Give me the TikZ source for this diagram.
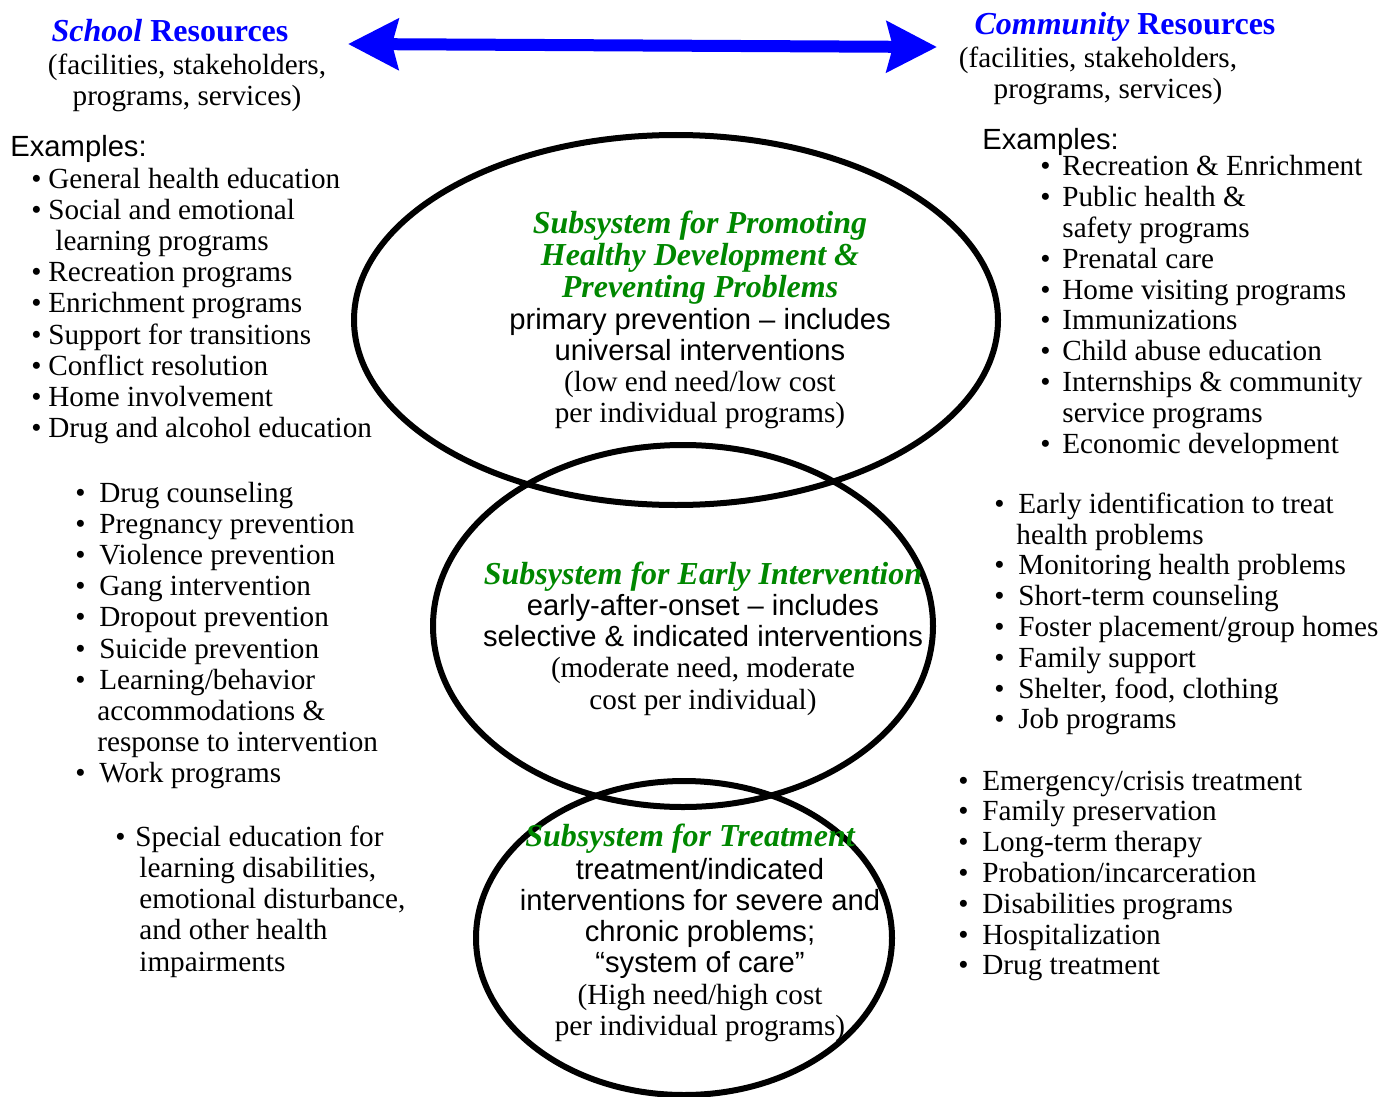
\documentclass[tikz,border=0pt]{standalone}
\usepackage{fontspec}
\setmainfont{Liberation Serif}
\setsansfont{Liberation Sans}
\usepackage{tikz}
\usetikzlibrary{positioning, arrows.meta}
\definecolor{titlegreen}{RGB}{0,135,0}
\newcommand{\bul}[1][12pt]{\makebox[#1][l]{\textbullet}}
\newcommand{\ind}[1][11pt]{\hspace*{#1}}
\newcommand{\tg}{\color{titlegreen}\fontsize{16}{15.6}\selectfont\bfseries\itshape}
\newcommand{\ts}{\sffamily}

\begin{document}
\begin{tikzpicture}[x=0.5pt, y=-0.5pt, ring/.style={line width=3pt},
  txt/.style={inner sep=0pt, font=\fontsize{14.6}{15.6}\selectfont},
  list/.style={txt, align=left, anchor=west},
  rlist/.style={list, font=\fontsize{14.6}{15.4}\selectfont},
  box/.style={txt, align=center},
  head/.style={inner sep=0pt, text=blue, font=\fontsize{16}{17}\selectfont\bfseries},
  bigarrow/.style={blue, line width=6pt, {Stealth[length=25pt,width=25pt,inset=3pt]}-{Stealth[length=25pt,width=25pt,inset=3pt]}}]
\useasboundingbox (0,0) rectangle (1397,1097);

%Subsystems
\draw[ring] (676,320) ellipse [x radius=322, y radius=185];
\draw[ring] (683,626) ellipse [x radius=250, y radius=181];
\draw[ring] (684,938) ellipse [x radius=208, y radius=157];

%Resources
\node[head] (SH) at (170,31) {\textit{School} Resources};
\node[box]  (SS) at (187,83) {(facilities, stakeholders,\\ programs, services)};
\node[head] (CH) at (1125,27) {\textit{Community} Resources};
\node[box]  (CS) at (1098,75.5) {(facilities, stakeholders,\\ \hspace*{10pt}programs, services)};
\coordinate (L) at (348,44);
\coordinate (R) at (937,47);
\draw[bigarrow] (L) -- (R);

%Examples
\node[list, font=\fontsize{14.6}{15.6}\selectfont\sffamily] (SE) at (10,149) {Examples:};
\node[list, font=\fontsize{14.6}{15.6}\selectfont\sffamily] (CE) at (982,142) {Examples:};

\node[list] (S1) at (31,306) {\bul[8.5pt]General health education\\ \bul[8.5pt]Social and emotional\\ \ind[12pt]learning programs\\ \bul[8.5pt]Recreation programs\\ \bul[8.5pt]Enrichment programs\\ \bul[8.5pt]Support for transitions\\ \bul[8.5pt]Conflict resolution\\ \bul[8.5pt]Home involvement\\ \bul[8.5pt]Drug and alcohol education};
\node[list] (S2) at (75,635.5) {\bul Drug counseling\\ \bul Pregnancy prevention\\ \bul Violence prevention\\ \bul Gang intervention\\ \bul Dropout prevention\\ \bul Suicide prevention\\ \bul Learning/behavior\\ \ind accommodations \&\\ \ind response to intervention\\ \bul Work programs};
\node[list] (S3) at (115,901.5) {\bul[10pt]Special education for\\ \ind[12pt]learning disabilities,\\ \ind[12pt]emotional disturbance,\\ \ind[12pt]and other health\\ \ind[12pt]impairments};

\node[rlist] (C1) at (1040,307.5) {\bul[11pt]Recreation \& Enrichment\\ \bul[11pt]Public health \&\\ \ind safety programs\\ \bul[11pt]Prenatal care\\ \bul[11pt]Home visiting programs\\ \bul[11pt]Immunizations\\ \bul[11pt]Child abuse education\\ \bul[11pt]Internships \& community\\ \ind service programs\\ \bul[11pt]Economic development};
\node[rlist] (C2) at (994,614) {\bul Early identification to treat\\ \ind health problems\\ \bul Monitoring health problems\\ \bul Short-term counseling\\ \bul Foster placement/group homes\\ \bul Family support\\ \bul Shelter, food, clothing\\ \bul Job programs};
\node[rlist] (C3) at (958,876) {\bul Emergency/crisis treatment\\ \bul Family preservation\\ \bul Long-term therapy\\ \bul Probation/incarceration\\ \bul Disabilities programs\\ \bul Hospitalization\\ \bul Drug treatment};

%Texts inside
\node[box] (P) at (700,320) {\tg Subsystem for Promoting\\[0.5pt] \tg Healthy Development \&\\[0.5pt] \tg Preventing Problems\\ \ts primary prevention -- includes\\ \ts universal interventions\\ (low end need/low cost\\ per individual programs)};
\node[box] (E) at (703,638.5) {\tg Subsystem for Early Intervention\\ \ts early-after-onset -- includes\\ \ts selective \& indicated interventions\\ (moderate need, moderate\\ cost per individual)};
\node[box] (T) at (700,932.5) {\tg Subsystem for Treatment\hspace*{10pt}\\[1pt] \ts treatment/indicated\\ \ts interventions for severe and\\ \ts chronic problems;\\ \ts “system of care”\\ (High need/high cost\\ per individual programs)};
\end{tikzpicture}
\end{document}
